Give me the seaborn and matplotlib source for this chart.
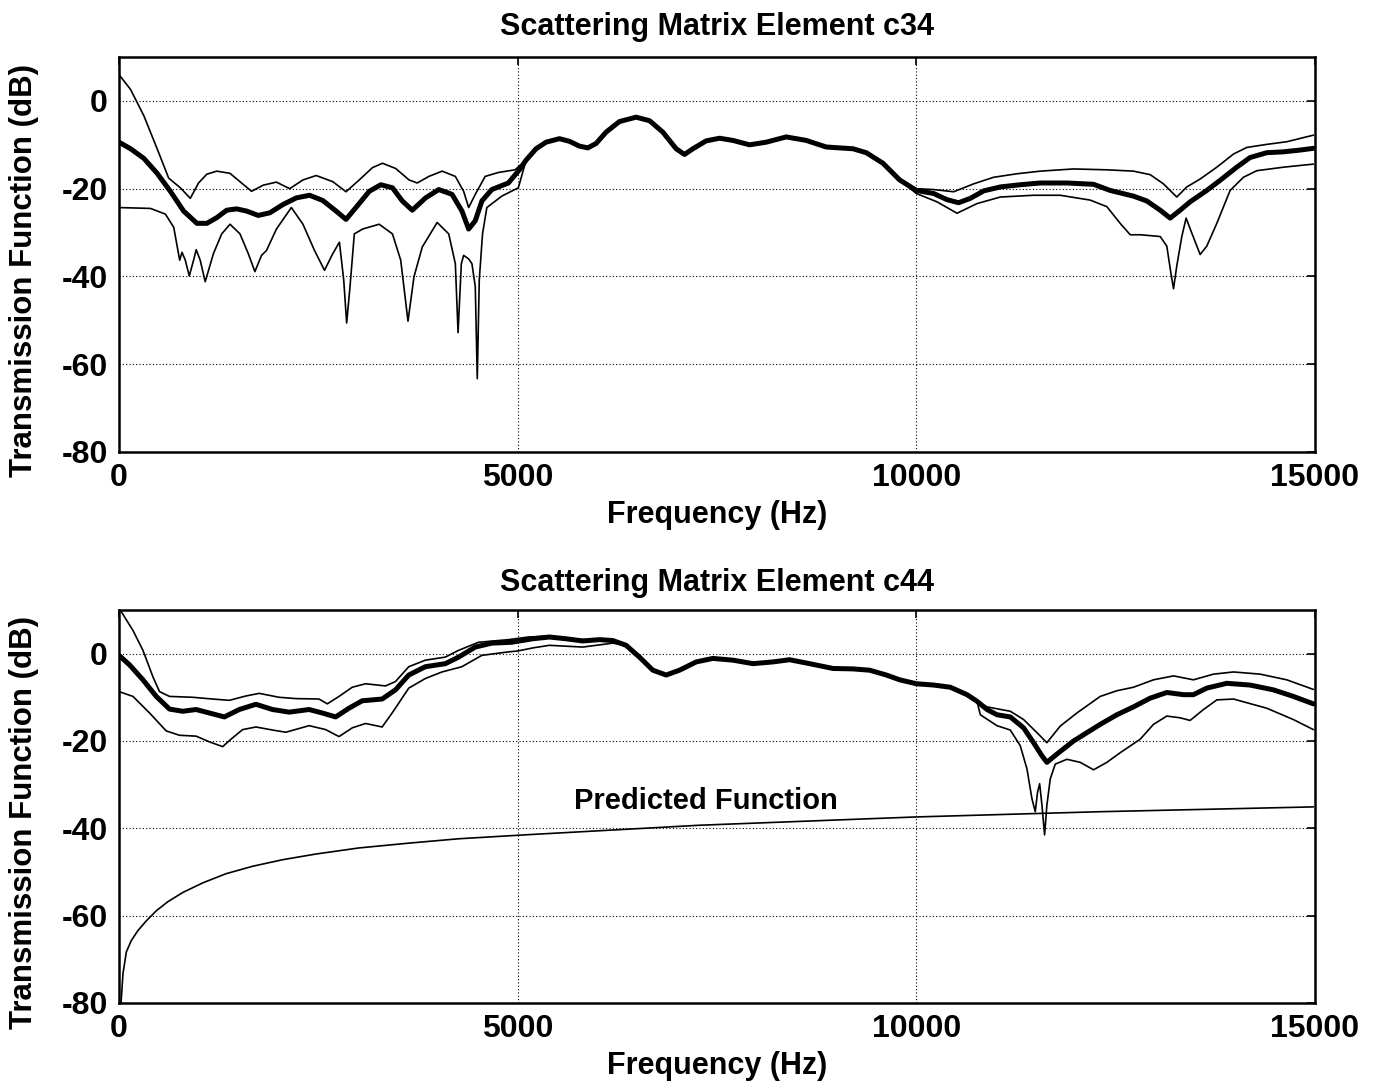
import numpy as np
import matplotlib
matplotlib.use("Agg")
import matplotlib.pyplot as plt
import seaborn as sns

# ---------------------------------------------------------------
# DATA
# ---------------------------------------------------------------
# c34 -- below 5 kHz, one list per curve
c34_hi_left_f = [0, 145, 312, 478, 623, 769, 894, 997, 1101, 1226, 1392, 1517, 1662, 1808,
                 1974, 2140, 2307, 2473, 2681, 2847, 3013, 3179, 3304, 3470, 3637, 3740, 3886,
                 4052, 4218, 4322, 4385, 4468, 4592, 4759, 4966]
c34_hi_left_db = [6, 2.6, -3.4, -10.9, -17.6, -19.8, -22.2, -18.7, -16.7, -16, -16.5, -18.4, -20.6,
                  -19.2, -18.5, -20, -18, -17, -18.4, -20.7, -18, -15.2, -14.2, -15.4, -18, -18.7,
                  -17.2, -16, -17.2, -20.6, -24.3, -21.3, -17.2, -16.3, -15.7]

c34_mid_left_f = [0, 145, 312, 478, 644, 810, 977, 1101, 1226, 1351, 1475, 1600, 1746, 1891,
                  2057, 2223, 2390, 2556, 2722, 2847, 2971, 3138, 3283, 3429, 3553, 3678, 3844,
                  4010, 4177, 4301, 4385, 4468, 4551, 4675, 4883, 5021]
c34_mid_left_db = [-9.4, -10.9, -13.1, -16.5, -20.6, -25.1, -27.9, -27.9, -26.6, -24.9, -24.6,
                   -25.1, -26.1, -25.5, -23.6, -22.1, -21.5, -22.7, -25.1, -27, -24.3, -20.6,
                   -19.1, -19.8, -22.8, -24.9, -22.1, -20.2, -21.3, -25.1, -29.2, -27.3, -22.8,
                   -20.2, -18.7, -15.7]

c34_lo_left_f = [0, 395, 582, 686, 761, 790, 831, 881, 935, 968, 1018, 1081, 1184, 1288, 1392,
                 1517, 1621, 1704, 1787, 1849, 1974, 2161, 2307, 2452, 2577, 2681, 2764, 2818,
                 2855, 2897, 2951, 3055, 3262, 3429, 3533, 3624, 3699, 3803, 3990, 4135, 4218,
                 4252, 4293, 4322, 4385, 4426, 4468, 4493, 4518, 4559, 4613, 4800, 5008]
c34_lo_left_db = [-24.3, -24.5, -25.8, -28.8, -36.3, -34.5, -36.3, -39.9, -36.3, -33.9, -36.3,
                  -41.2, -34.8, -30.3, -28.1, -30.3, -34.8, -38.9, -35.2, -34.1, -29.2, -24.3,
                  -28.1, -34.1, -38.6, -34.8, -32.2, -40.8, -50.6, -42.3, -30.3, -29.2, -28.1,
                  -30.3, -36.3, -50.2, -40.1, -33.3, -27.7, -30.3, -37.1, -52.8, -37.1, -35.2,
                  -36, -37.1, -42.3, -63.3, -40.8, -30.3, -24.3, -21.7, -19.8]

# c34 -- 5-10 kHz, where the three curves lie on top of each other
c34_shared_f = [5105, 5230, 5356, 5523, 5649, 5774, 5879, 5983, 6109, 6276, 6485, 6653, 6820,
                6987, 7092, 7197, 7364, 7532, 7699, 7908, 8117, 8368, 8619, 8870, 9205, 9372,
                9581, 9790]
c34_shared_db = [-13.5, -10.9, -9.4, -8.6, -9.2, -10.3, -10.7, -9.7, -7.1, -4.7, -3.7, -4.5, -7.1,
                 -10.9, -12.2, -10.9, -9.1, -8.5, -9, -10, -9.4, -8.2, -9, -10.5, -10.9, -11.8,
                 -14.2, -18]

# c34 -- above 10 kHz
c34_hi_right_f = [10000, 10217, 10468, 10718, 10969, 11261, 11554, 11972, 12389, 12723, 12932,
                  13099, 13266, 13392, 13559, 13768, 13977, 14144, 14394, 14645, 14979]
c34_hi_right_db = [-20, -20.2, -20.7, -18.9, -17.4, -16.6, -16, -15.5, -15.7, -16, -16.8,
                   -18.9, -21.9, -19.6, -17.8, -15.1, -12.1, -10.6, -9.9, -9.3, -7.8]

c34_mid_right_f = [10000, 10217, 10384, 10530, 10677, 10844, 11053, 11303, 11554, 11888, 12222,
                   12431, 12723, 12890, 13058, 13183, 13308, 13433, 13642, 13809, 14018, 14185,
                   14394, 14603, 14812, 14979]
c34_mid_right_db = [-20.4, -21.1, -22.5, -23.2, -22.2, -20.5, -19.6, -19.1, -18.7, -18.7, -19,
                    -20.4, -21.7, -22.8, -24.9, -26.7, -24.9, -23, -20.4, -18.1, -15.1, -12.9,
                    -11.8, -11.6, -11.2, -10.8]

c34_lo_right_f = [10000, 10259, 10510, 10760, 11053, 11470, 11804, 12180, 12389, 12556, 12682,
                  12807, 13058, 13141, 13191, 13225, 13266, 13329, 13383, 13454, 13559, 13642,
                  13768, 13935, 14102, 14269, 14603, 14979]
c34_lo_right_db = [-21.1, -23, -25.6, -23.4, -21.9, -21.5, -21.5, -22.6, -24.1, -27.9, -30.5,
                   -30.5, -30.9, -33.1, -39.1, -42.8, -37.6, -30.9, -26.7, -30.1, -35, -33.1,
                   -27.9, -20.4, -17.4, -15.9, -15.1, -14.4]

# c44 -- below ~6.3 kHz
c44_hi_left_f = [8, 175, 300, 425, 508, 633, 925, 1175, 1383, 1592, 1758, 2008, 2217, 2508,
                 2613, 2759, 2925, 3092, 3342, 3467, 3634, 3842, 4092, 4259, 4509, 4884, 5134,
                 5397, 5816, 6192]
c44_hi_left_db = [10.2, 5.3, 0.75, -5.3, -8.7, -9.8, -10, -10.4, -10.7, -9.7, -9.1, -10, -10.3,
                  -10.4, -11.5, -9.8, -7.7, -6.9, -7.4, -6.4, -3, -1.5, -0.8, 0.75, 2.6, 3.2, 3.8,
                  4.0, 3.2, 3.2]

c44_mid_left_f = [0, 133, 300, 467, 633, 800, 967, 1133, 1321, 1508, 1717, 1925, 2134, 2384,
                  2550, 2717, 2884, 3050, 3300, 3467, 3634, 3842, 4092, 4259, 4467, 4675, 4925,
                  5188, 5397, 5607, 5816, 6025, 6192]
c44_mid_left_db = [-0.4, -2.6, -6, -9.8, -12.7, -13.2, -12.8, -13.6, -14.5, -12.8, -11.6, -12.8,
                   -13.4, -12.8, -13.6, -14.5, -12.5, -10.8, -10.4, -8.3, -4.9, -3, -2.3, -0.8,
                   1.5, 2.4, 2.6, 3.4, 3.8, 3.4, 2.9, 3.2, 3]

c44_lo_left_f = [0, 175, 383, 592, 758, 967, 1133, 1300, 1404, 1550, 1717, 1925, 2092, 2384,
                 2592, 2759, 2925, 3092, 3300, 3425, 3634, 3842, 4050, 4300, 4550, 4884, 5000,
                 5188, 5397, 5607, 5816, 6025, 6192]
c44_lo_left_db = [-8.7, -9.8, -13.6, -17.7, -18.7, -18.9, -20.2, -21.3, -19.6, -17.4, -16.8, -17.5,
                  -18, -16.5, -17.4, -19, -17, -16, -16.8, -13.6, -7.9, -5.7, -4.2, -3, -0.4, 0.4,
                  0.6, 1.3, 1.9, 1.7, 1.5, 2, 2.4]

# c44 -- 6.3-10.8 kHz shared stretch
c44_shared_f = [6360, 6527, 6695, 6862, 7029, 7239, 7448, 7699, 7950, 8201, 8410, 8661, 8954,
                9205, 9414, 9623, 9791, 10000, 10217, 10426, 10635, 10760]
c44_shared_db = [1.9, -0.8, -3.8, -4.9, -3.8, -1.9, -1.1, -1.5, -2.3, -1.9, -1.4, -2.3, -3.4,
                 -3.5, -3.8, -4.9, -6, -6.9, -7.2, -7.7, -9.4, -10.9]

# c44 -- above 10.8 kHz
c44_hi_right_f = [10886, 11178, 11345, 11512, 11637, 11804, 12013, 12306, 12515, 12723, 12974,
                  13225, 13475, 13726, 13977, 14311, 14645, 14979]
c44_hi_right_db = [-12.2, -13.2, -15.1, -18.1, -20.4, -16.6, -13.6, -9.8, -8.5, -7.7, -6, -5.1,
                   -6, -4.7, -4.2, -4.7, -6, -8.2]

c44_mid_right_f = [10886, 11011, 11178, 11345, 11470, 11575, 11637, 11763, 11972, 12139, 12306,
                   12515, 12723, 12932, 13141, 13350, 13475, 13642, 13893, 14185, 14478, 14728,
                   14979]
c44_mid_right_db = [-12.8, -14, -14.5, -17, -20.4, -23.4, -24.9, -23, -20, -18.1, -16.2, -14,
                    -12.2, -10.2, -8.9, -9.4, -9.4, -7.9, -6.8, -7.2, -8.3, -9.8, -11.5]

c44_lo_right_f = [10802, 11011, 11178, 11303, 11387, 11449, 11491, 11520, 11546, 11575, 11608,
                  11637, 11679, 11742, 11888, 12055, 12222, 12389, 12556, 12807, 12974, 13141,
                  13308, 13433, 13601, 13768, 13977, 14394, 14728, 14979]
c44_lo_right_db = [-14, -16.5, -17.5, -21.1, -26.4, -33.2, -36.2, -31.7, -29.8, -34.7, -41.5,
                   -34.7, -28.7, -25.3, -24.2, -24.9, -26.6, -24.9, -22.7, -19.6, -16.2, -14.3,
                   -14.7, -15.3, -12.8, -10.6, -10.4, -12.5, -15.1, -17.4]

# predicted transmission function
pred_f = [25, 50, 92, 154, 238, 342, 467, 613, 800, 1050, 1342, 1675, 2050, 2467, 3009, 3634,
          4259, 5092, 7280, 10000, 12306, 14979]
pred_db = [-80, -73.2, -68.3, -65.7, -63.4, -61.2, -58.9, -56.8, -54.7, -52.5, -50.4, -48.7,
           -47.2, -45.9, -44.5, -43.4, -42.4, -41.5, -39.3, -37.4, -36.2, -35.1]

titles = ["Scattering Matrix Element c34", "Scattering Matrix Element c44"]
x_ticks = [0, 5000, 10000, 15000]
y_ticks = [0, -20, -40, -60, -80]

# ---------------------------------------------------------------
# STYLE
# ---------------------------------------------------------------
sns.set_style("white")
plt.rcParams['font.family'] = ['Liberation Sans', 'DejaVu Sans']
plt.rcParams['font.weight'] = 'bold'
plt.rcParams['axes.unicode_minus'] = False
plt.rcParams['text.color'] = 'black'
plt.rcParams['axes.labelcolor'] = 'black'
plt.rcParams['xtick.color'] = 'black'
plt.rcParams['ytick.color'] = 'black'
plt.rcParams['lines.solid_joinstyle'] = 'round'

THIN = 1.2
THICK = 3.6


def curve(*parts):
    f = np.concatenate([p[0] for p in parts])
    d = np.concatenate([p[1] for p in parts])
    return f, d


panels = [
    [
        (curve((c34_hi_left_f, c34_hi_left_db), (c34_shared_f, c34_shared_db),
               (c34_hi_right_f, c34_hi_right_db)), THIN),
        (curve((c34_lo_left_f, c34_lo_left_db), (c34_shared_f, c34_shared_db),
               (c34_lo_right_f, c34_lo_right_db)), THIN),
        (curve((c34_mid_left_f, c34_mid_left_db), (c34_shared_f, c34_shared_db),
               (c34_mid_right_f, c34_mid_right_db)), THICK),
    ],
    [
        (curve((c44_hi_left_f, c44_hi_left_db), (c44_shared_f, c44_shared_db),
               (c44_hi_right_f, c44_hi_right_db)), THIN),
        (curve((c44_lo_left_f, c44_lo_left_db), (c44_shared_f, c44_shared_db),
               (c44_lo_right_f, c44_lo_right_db)), THIN),
        (curve((c44_mid_left_f, c44_mid_left_db), (c44_shared_f, c44_shared_db),
               (c44_mid_right_f, c44_mid_right_db)), THICK),
        ((np.array(pred_f), np.array(pred_db)), THIN),
    ],
]

fig = plt.figure(figsize=(13.76, 10.89), dpi=100)
ax_top = fig.add_axes([0.0865, 0.585, 0.8692, 0.3626])
ax_bot = fig.add_axes([0.0865, 0.079, 0.8692, 0.3609])

for ax, lines, title, tpad in zip([ax_top, ax_bot], panels, titles, [16, 14]):
    for (f, d), lw in lines:
        sns.lineplot(x=f, y=d, ax=ax, color='black', linewidth=lw, sort=False,
                     estimator=None, legend=False)
    ax.set_xlim(0, 15000)
    ax.set_ylim(-80, 10)
    ax.set_xticks(x_ticks)
    ax.set_yticks(y_ticks)
    ax.grid(True, color='black', linestyle=(0, (1, 2)), linewidth=0.8)
    ax.tick_params(direction='in', length=6, width=1.2, labelsize=23, pad=8,
                   top=True, right=True)
    for sp in ax.spines.values():
        sp.set_color('black')
        sp.set_linewidth(1.8)
    ax.set_title(title, fontsize=22, fontweight='bold', pad=tpad)
    ax.set_xlabel('Frequency (Hz)', fontsize=22, fontweight='bold', labelpad=5)
    ax.set_ylabel('Transmission Function (dB)', fontsize=22.5, fontweight='bold')
    ax.yaxis.set_label_coords(-0.067, 0.46)

ax_bot.text(7355, -33.8, 'Predicted Function', fontsize=21, fontweight='bold',
            ha='center', va='center')

fig.savefig('out.png', dpi=100)
